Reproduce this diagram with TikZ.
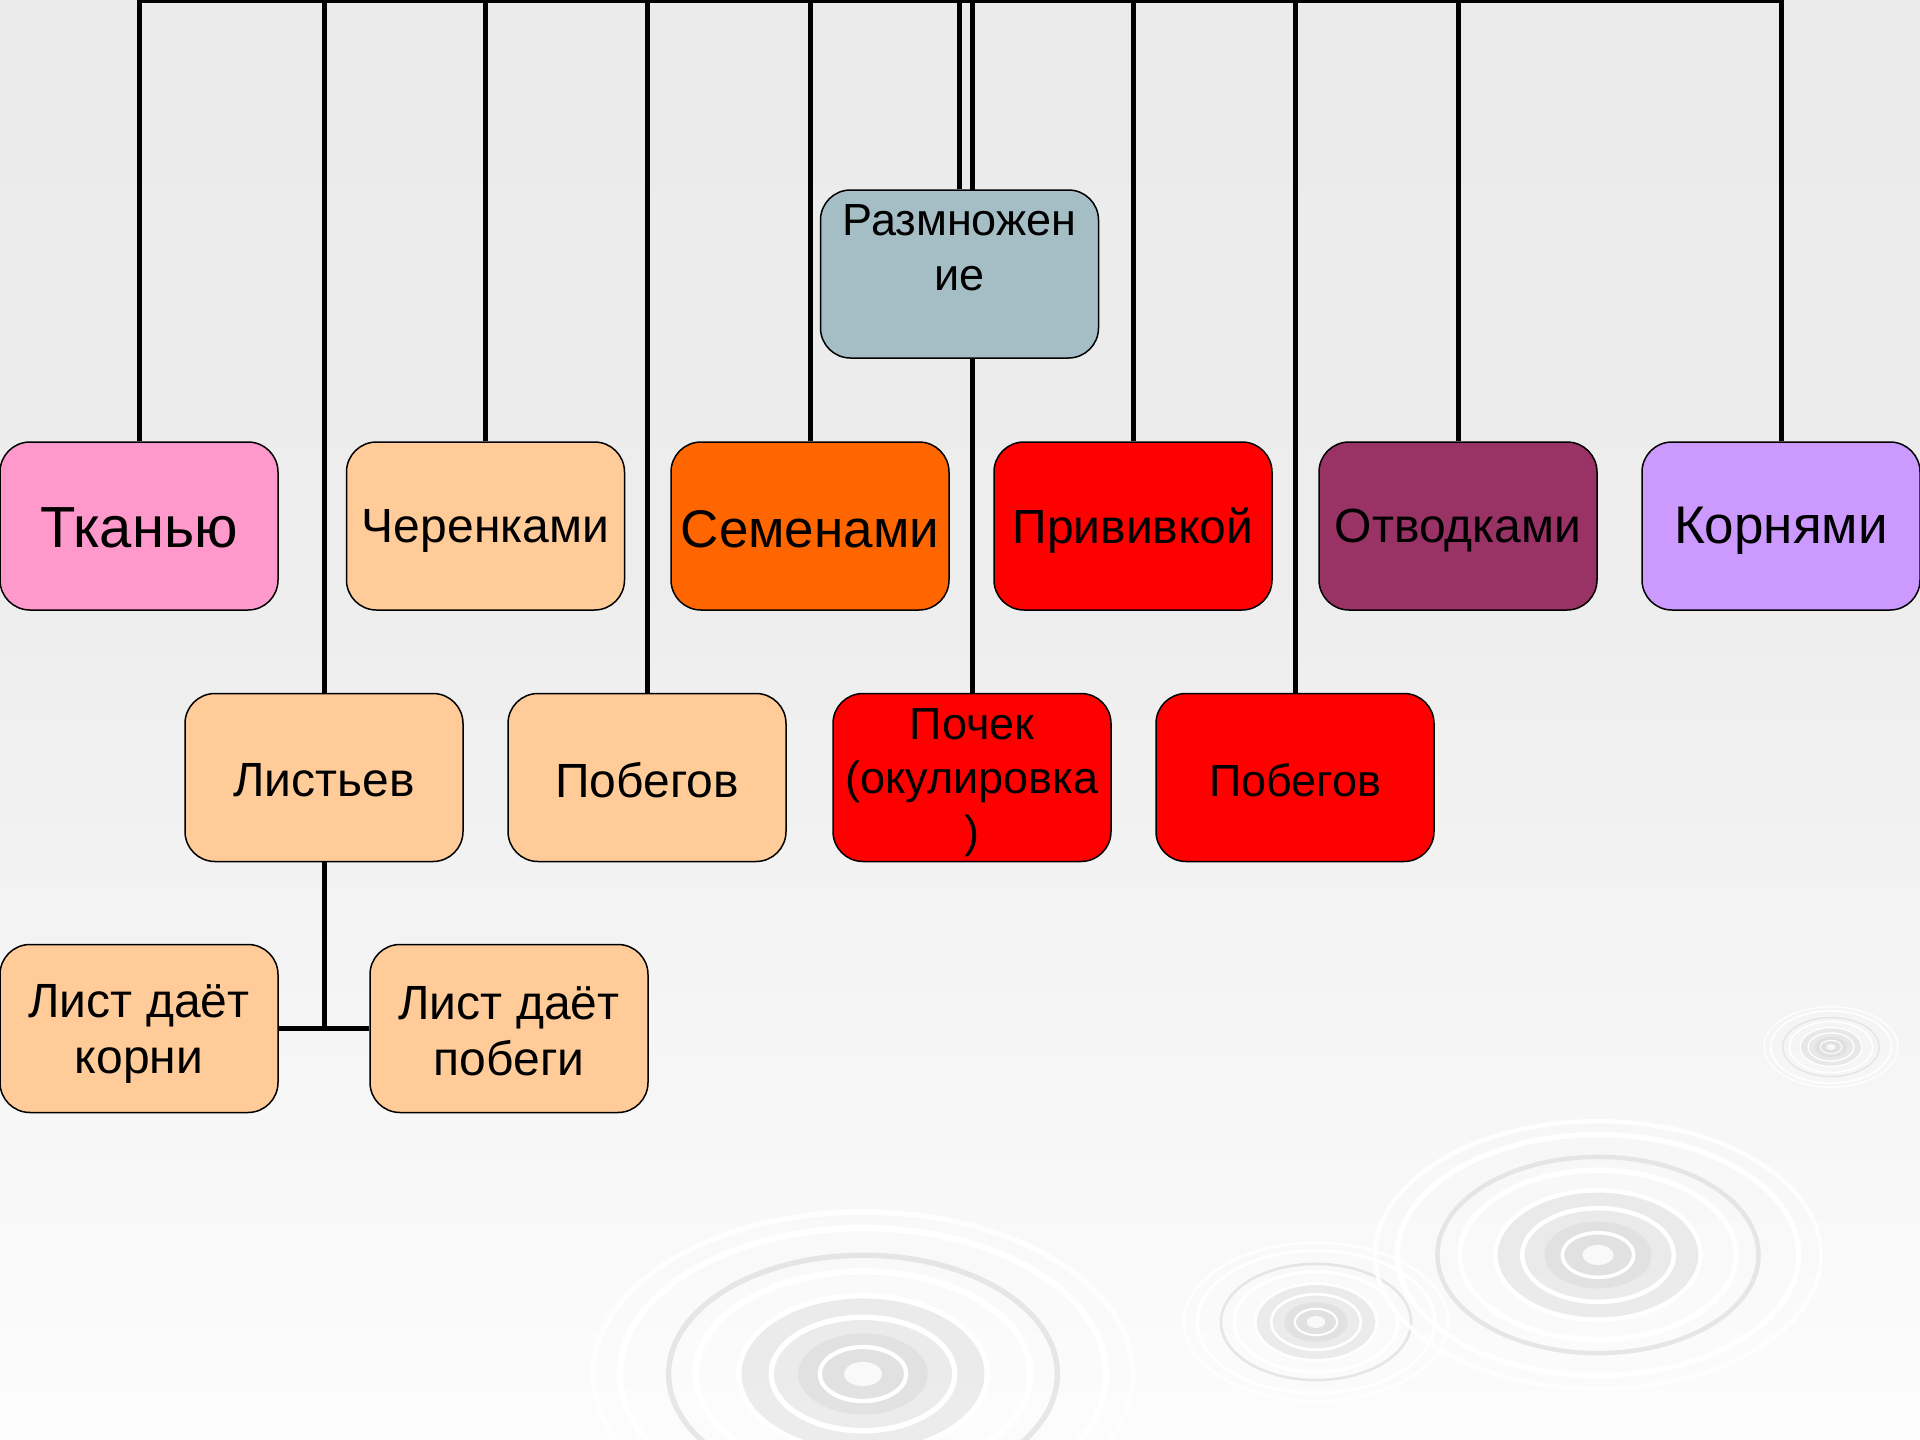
\documentclass[tikz,border=0pt]{standalone}
\usepackage{fontspec}
\setmainfont{Liberation Sans}
\pgfdeclarelayer{bg}
\pgfdeclarelayer{lines}
\pgfsetlayers{bg,lines,main}
\definecolor{peach}{HTML}{FFCC99}
\definecolor{pinkc}{HTML}{FF99CC}
\definecolor{orangec}{HTML}{FF6600}
\definecolor{redc}{HTML}{FF0000}
\definecolor{plumc}{HTML}{993366}
\definecolor{lilac}{HTML}{CC99FF}
\definecolor{rootc}{HTML}{A5BDC5}
\definecolor{bgtop}{HTML}{E8E8E8}
\definecolor{bgmid}{HTML}{EDEDED}
\definecolor{ringgrey}{HTML}{D9D9D9}
\pgfdeclareverticalshading{bgshade}{100bp}{color(0bp)=(white); color(20bp)=(white); color(55bp)=(bgmid); color(100bp)=(bgtop)}
\tikzset{
  box/.style={draw=black, line width=1.5pt, rounded corners=30pt,
    minimum width=278pt, minimum height=168pt, inner sep=0pt},
  lbl/.style={align=center, inner sep=0pt, text=black},
  bigtxt/.style={font=\fontsize{58}{68}\selectfont},
  midtxt/.style={font=\fontsize{48}{56}\selectfont},
  conn/.style={draw=black, line width=5pt},
  busline/.style={conn, line cap=rect},
}
\newcommand\myripple[3]{%
  \pgfmathsetmacro\rlw{#3/50}%
  \begin{scope}[shift={(#1,#2)}, scale=#3]
    \draw[white, line width=\rlw pt, opacity=.9] (0,0) ellipse [x radius=1, y radius=.6];
    \draw[white, line width=1.2*\rlw pt] (0,0) ellipse [x radius=.9, y radius=.54];
    \draw[ringgrey, line width=\rlw pt, opacity=.6] (0,0) ellipse [x radius=.72, y radius=.44];
    \draw[white, line width=1.2*\rlw pt] (0,0) ellipse [x radius=.62, y radius=.38];
    \fill[ringgrey, opacity=.45] (0,0) ellipse [x radius=.46, y radius=.29];
    \draw[white, line width=\rlw pt] (0,0) ellipse [x radius=.46, y radius=.29];
    \draw[white, line width=\rlw pt] (0,0) ellipse [x radius=.34, y radius=.21];
    \fill[ringgrey, opacity=.5] (0,0) ellipse [x radius=.24, y radius=.15];
    \draw[white, line width=.8*\rlw pt] (0,0) ellipse [x radius=.16, y radius=.1];
    \fill[white, opacity=.8] (0,0) ellipse [x radius=.07, y radius=.045];
  \end{scope}}
\begin{document}
\begin{tikzpicture}[x=1pt, y=-1pt]
\useasboundingbox (0,0) rectangle (1920,1440);
\begin{pgfonlayer}{bg}
  \shade[shading=bgshade] (0,0) rectangle (1920,1440);
  \myripple{863}{1374}{270}
  \myripple{1316}{1322}{132}
  \myripple{1598}{1255}{223}
  \myripple{1831}{1047}{67}
\end{pgfonlayer}

\coordinate (bus) at (960,0.5);

\node[box, fill=rootc, label={[lbl, yshift=-9pt, font=\fontsize{45}{55}\selectfont]center:{Размножен\\ие\\\strut}}] (root) at (959.5,274) {};

\node[box, fill=pinkc, label={[lbl, yshift=-2pt, bigtxt]center:Тканью}] (tk) at (139,526) {};
\node[box, fill=peach, label={[lbl, yshift=-5pt, midtxt]center:Черенками}] (cher) at (485.5,526) {};
\node[box, fill=orangec, label={[lbl, yshift=-3pt, font=\fontsize{53}{62}\selectfont]center:Семенами}] (sem) at (810,526) {};
\node[box, fill=redc, label={[lbl, yshift=-5pt, midtxt]center:Прививкой}] (priv) at (1133,526) {};
\node[box, fill=plumc, label={[lbl, yshift=-5pt, midtxt]center:Отводками}] (otv) at (1458,526) {};
\node[box, fill=lilac, label={[lbl, yshift=-5pt, font=\fontsize{53}{62}\selectfont]center:Корнями}] (kor) at (1781,526) {};

\node[box, fill=peach, label={[lbl, yshift=-3pt, midtxt]center:Листьев}] (list) at (324,777.5) {};
\node[box, fill=peach, label={[lbl, yshift=-3pt, midtxt]center:Побегов}] (pob1) at (647,777.5) {};
\node[box, fill=redc, label={[lbl, yshift=-5pt, font=\fontsize{45}{54}\selectfont]center:{Почек\\(окулировка\\)}}] (poch) at (972,777.5) {};
\node[box, fill=redc, label={[lbl, yshift=-3pt, font=\fontsize{45}{54}\selectfont]center:Побегов}] (pob2) at (1295,777.5) {};

\node[box, fill=peach, label={[lbl, yshift=-5pt, midtxt]center:{Лист даёт\\корни}}] (lk) at (139,1028.5) {};
\node[box, fill=peach, label={[lbl, yshift=-3pt, midtxt]center:{Лист даёт\\побеги}}] (lp) at (509,1028.5) {};

\begin{pgfonlayer}{lines}
  \draw[busline] (tk.north |- bus) -- (kor.north |- bus);
  \draw[conn] (root.north) -- (root.north |- bus);
  \foreach \c in {tk,cher,sem,priv,otv,kor,list,pob1,poch,pob2}
    \draw[conn] (\c.north) -- (\c.north |- bus);
  \draw[conn] (list.south) -- (list.south |- lk.east);
  \draw[conn] (lk.east) -- (lp.west);
\end{pgfonlayer}
\end{tikzpicture}
\end{document}
